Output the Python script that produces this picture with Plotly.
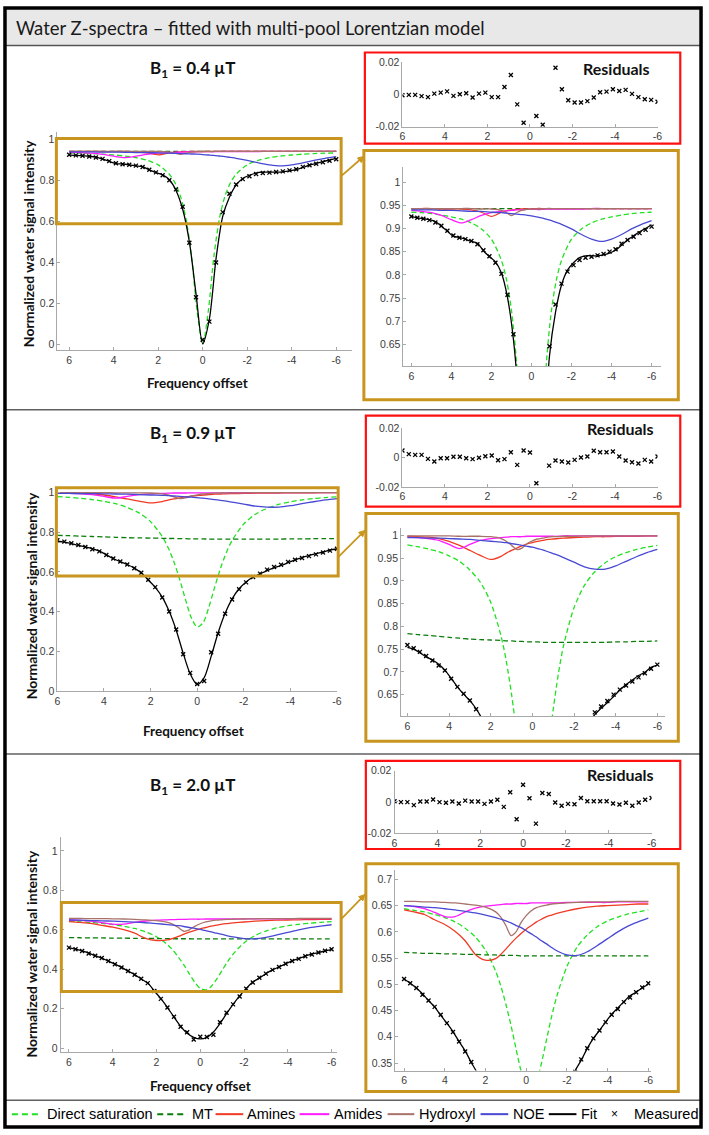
import math
import plotly.graph_objects as go

# ---------------- data ----------------
OFFSETS = [6.0, 5.7, 5.4, 5.1, 4.8, 4.5, 4.2, 3.9, 3.6, 3.3, 3.0, 2.7, 2.4, 2.1, 1.8, 1.5, 1.2, 0.9, 0.6, 0.3, 0.0,
           -0.3, -0.6, -0.9, -1.2, -1.5, -1.8, -2.1, -2.4, -2.7, -3.0, -3.3, -3.6, -3.9, -4.2, -4.5, -4.8, -5.1,
           -5.4, -5.7, -6.0]
CURVE_X = [6, 5.5, 5, 4.5, 4, 3.5, 3, 2.5, 2, 1.5, 1.25, 1, 0.75, 0.5, 0.25, 0, -0.25, -0.5, -0.75, -1, -1.25,
           -1.5, -2, -2.5, -3, -3.5, -4, -4.5, -5, -5.5, -6]
X_TICKS = [6, 4, 2, 0, -2, -4, -6]
X_TICK_TEXT = ['6', '4', '2', '0', '-2', '-4', '-6']
PANEL_LABELS = ['0.4', '0.9', '2.0']

# B1 = 0.4 uT
DS_1 = [0.935, 0.934, 0.932, 0.929, 0.925, 0.920, 0.912, 0.899, 0.877, 0.831, 0.790, 0.724, 0.613, 0.427, 0.161,
        0.000, 0.161, 0.427, 0.613, 0.724, 0.790, 0.831, 0.877, 0.899, 0.912, 0.920, 0.925, 0.929, 0.932, 0.934, 0.935]
MT_1 = [0.943, 0.943, 0.943, 0.943, 0.943, 0.943, 0.943, 0.943, 0.943, 0.943, 0.943, 0.943, 0.943, 0.943, 0.943,
        0.943, 0.943, 0.943, 0.943, 0.943, 0.943, 0.943, 0.943, 0.943, 0.943, 0.943, 0.943, 0.943, 0.943, 0.943, 0.943]
AMINES_1 = [0.943, 0.943, 0.943, 0.942, 0.942, 0.942, 0.940, 0.935, 0.926, 0.935, 0.938, 0.940, 0.941, 0.942, 0.942,
            0.942, 0.943, 0.943, 0.943, 0.943, 0.943, 0.943, 0.943, 0.943, 0.943, 0.943, 0.943, 0.943, 0.943, 0.943,
            0.943]
AMIDES_1 = [0.939, 0.937, 0.934, 0.928, 0.919, 0.912, 0.919, 0.928, 0.934, 0.937, 0.938, 0.939, 0.940, 0.940, 0.941,
            0.941, 0.941, 0.941, 0.942, 0.942, 0.942, 0.942, 0.942, 0.942, 0.943, 0.943, 0.943, 0.943, 0.943, 0.943,
            0.943]
HYDROXYL_1 = [0.943, 0.943, 0.943, 0.943, 0.943, 0.943, 0.943, 0.942, 0.942, 0.939, 0.934, 0.928, 0.934, 0.939,
              0.941, 0.942, 0.942, 0.942, 0.943, 0.943, 0.943, 0.943, 0.943, 0.943, 0.943, 0.943, 0.943, 0.943,
              0.943, 0.943, 0.943]
NOE_1 = [0.940, 0.940, 0.940, 0.939, 0.939, 0.938, 0.937, 0.937, 0.935, 0.934, 0.933, 0.932, 0.931, 0.930, 0.929,
         0.927, 0.925, 0.923, 0.920, 0.917, 0.913, 0.909, 0.899, 0.887, 0.877, 0.872, 0.877, 0.887, 0.899, 0.909, 0.917]
FIT_1 = [0.926, 0.923, 0.921, 0.919, 0.915, 0.905, 0.894, 0.883, 0.881, 0.877, 0.872, 0.868, 0.852, 0.839, 0.828,
         0.804, 0.752, 0.660, 0.502, 0.247, 0.003, 0.124, 0.419, 0.625, 0.719, 0.778, 0.810, 0.826, 0.837, 0.841,
         0.841, 0.841, 0.843, 0.847, 0.853, 0.864, 0.875, 0.884, 0.893, 0.900, 0.908]
MEAS_1 = [0.926, 0.923, 0.921, 0.918, 0.913, 0.906, 0.895, 0.885, 0.880, 0.877, 0.873, 0.866, 0.853, 0.840, 0.826,
          0.802, 0.757, 0.672, 0.496, 0.230, 0.023, 0.111, 0.400, 0.646, 0.736, 0.781, 0.807, 0.821, 0.832, 0.837,
          0.839, 0.842, 0.845, 0.850, 0.855, 0.867, 0.875, 0.882, 0.890, 0.897, 0.904]
RES_1 = [-0.0004, -0.0002, -0.0002, -0.0010, -0.0016, 0.0006, 0.0012, 0.0020, -0.0008, 0.0002, 0.0008, -0.0018,
         0.0006, 0.0012, -0.0016, -0.0016, 0.0047, 0.0122, -0.0061, -0.0175, None, -0.0133, -0.0188, None, 0.0167,
         0.0033, -0.0035, -0.0049, -0.0049, -0.0041, -0.0018, 0.0014, 0.0018, 0.0033, 0.0022, 0.0029, 0.0004,
         -0.0016, -0.0029, -0.0033, -0.0045]

# B1 = 0.9 uT
DS_2 = [0.979, 0.975, 0.970, 0.964, 0.955, 0.943, 0.924, 0.897, 0.853, 0.778, 0.723, 0.651, 0.562, 0.460, 0.369,
        0.322, 0.343, 0.421, 0.522, 0.617, 0.696, 0.758, 0.841, 0.890, 0.920, 0.940, 0.953, 0.962, 0.969, 0.974, 0.978]
MT_2 = [0.784, 0.782, 0.780, 0.778, 0.776, 0.774, 0.772, 0.771, 0.770, 0.769, 0.768, 0.768, 0.767, 0.767, 0.766,
        0.766, 0.766, 0.765, 0.765, 0.765, 0.765, 0.765, 0.765, 0.765, 0.765, 0.765, 0.766, 0.766, 0.767, 0.767, 0.768]
AMINES_2 = [0.998, 0.997, 0.996, 0.993, 0.987, 0.978, 0.967, 0.956, 0.947, 0.954, 0.961, 0.967, 0.972, 0.977, 0.981,
            0.984, 0.987, 0.989, 0.991, 0.992, 0.993, 0.994, 0.995, 0.996, 0.997, 0.997, 0.998, 0.998, 0.998, 0.999,
            0.999]
AMIDES_2 = [0.996, 0.995, 0.993, 0.989, 0.980, 0.971, 0.980, 0.989, 0.993, 0.995, 0.996, 0.997, 0.997, 0.997, 0.998,
            0.998, 0.998, 0.998, 0.998, 0.998, 0.998, 0.999, 0.999, 0.999, 0.999, 0.999, 0.999, 0.999, 0.999, 0.999,
            0.999]
HYDROXYL_2 = [0.999, 0.999, 0.999, 0.999, 0.999, 0.998, 0.998, 0.998, 0.997, 0.993, 0.987, 0.978, 0.969, 0.972,
              0.982, 0.988, 0.992, 0.994, 0.996, 0.997, 0.997, 0.998, 0.998, 0.999, 0.999, 0.999, 0.999, 0.999,
              0.999, 0.999, 0.999]
NOE_2 = [0.995, 0.995, 0.994, 0.994, 0.993, 0.992, 0.991, 0.989, 0.987, 0.985, 0.984, 0.982, 0.980, 0.978, 0.976,
         0.974, 0.971, 0.968, 0.964, 0.960, 0.956, 0.951, 0.941, 0.931, 0.926, 0.926, 0.933, 0.943, 0.953, 0.962, 0.969]
FIT_2 = [0.754, 0.750, 0.742, 0.733, 0.726, 0.717, 0.704, 0.686, 0.667, 0.651, 0.637, 0.619, 0.595, 0.559, 0.522,
         0.473, 0.401, 0.306, 0.190, 0.086, 0.032, 0.067, 0.174, 0.293, 0.391, 0.464, 0.515, 0.549, 0.574, 0.590,
         0.606, 0.620, 0.632, 0.646, 0.660, 0.672, 0.682, 0.692, 0.699, 0.710, 0.715]
MEAS_2 = [0.759, 0.752, 0.744, 0.735, 0.725, 0.714, 0.703, 0.685, 0.667, 0.652, 0.637, 0.618, 0.595, 0.560, 0.523,
          0.471, 0.400, 0.310, 0.185, 0.091, 0.035, 0.050, 0.195, 0.288, 0.389, 0.461, 0.512, 0.547, 0.574, 0.591,
          0.611, 0.624, 0.636, 0.650, 0.661, 0.670, 0.679, 0.688, 0.697, 0.707, 0.716]
RES_2 = [0.0048, 0.0023, 0.0018, 0.0018, -0.0009, -0.0027, -0.0005, -0.0005, 0.0005, 0.0005, -0.0005, -0.0011,
         -0.0002, 0.0009, 0.0014, -0.0018, -0.0011, 0.0036, -0.0050, 0.0048, 0.0034, -0.0175, None, -0.0055,
         -0.0020, -0.0027, -0.0034, -0.0016, 0.0000, 0.0007, 0.0046, 0.0036, 0.0036, 0.0041, 0.0007, -0.0020,
         -0.0032, -0.0041, -0.0016, -0.0027, 0.0007]

# B1 = 2.0 uT
DS_3 = [0.644, 0.641, 0.638, 0.633, 0.627, 0.619, 0.607, 0.590, 0.565, 0.525, 0.497, 0.462, 0.422, 0.377, 0.334,
        0.303, 0.296, 0.313, 0.350, 0.395, 0.439, 0.477, 0.534, 0.571, 0.594, 0.610, 0.621, 0.628, 0.634, 0.638, 0.642]
MT_3 = [0.561, 0.560, 0.559, 0.559, 0.558, 0.558, 0.557, 0.557, 0.556, 0.556, 0.555, 0.555, 0.555, 0.555, 0.554,
        0.554, 0.554, 0.554, 0.554, 0.554, 0.554, 0.554, 0.554, 0.554, 0.554, 0.554, 0.554, 0.554, 0.554, 0.554, 0.554]
AMINES_3 = [0.642, 0.638, 0.633, 0.623, 0.614, 0.601, 0.583, 0.557, 0.546, 0.549, 0.557, 0.567, 0.578, 0.588, 0.597,
            0.605, 0.612, 0.619, 0.624, 0.629, 0.632, 0.635, 0.640, 0.644, 0.647, 0.649, 0.650, 0.651, 0.652, 0.653,
            0.653]
AMIDES_3 = [0.650, 0.648, 0.644, 0.637, 0.629, 0.629, 0.638, 0.645, 0.649, 0.651, 0.652, 0.653, 0.653, 0.654, 0.654,
            0.654, 0.655, 0.655, 0.655, 0.655, 0.655, 0.655, 0.656, 0.656, 0.656, 0.656, 0.656, 0.657, 0.657, 0.657,
            0.657]
HYDROXYL_3 = [0.658, 0.658, 0.657, 0.657, 0.656, 0.655, 0.653, 0.651, 0.647, 0.638, 0.628, 0.612, 0.593, 0.600,
              0.618, 0.631, 0.640, 0.646, 0.649, 0.651, 0.653, 0.654, 0.655, 0.656, 0.657, 0.657, 0.657, 0.658,
              0.658, 0.658, 0.658]
NOE_3 = [0.650, 0.649, 0.647, 0.646, 0.644, 0.642, 0.639, 0.636, 0.632, 0.627, 0.624, 0.621, 0.617, 0.612, 0.608,
         0.602, 0.596, 0.590, 0.583, 0.577, 0.570, 0.564, 0.556, 0.555, 0.562, 0.574, 0.587, 0.600, 0.611, 0.619, 0.626]
FIT_3 = [0.510, 0.502, 0.493, 0.482, 0.469, 0.457, 0.441, 0.426, 0.410, 0.391, 0.373, 0.351, 0.330, 0.290, 0.251,
         0.206, 0.158, 0.112, 0.075, 0.055, 0.047, 0.055, 0.082, 0.125, 0.175, 0.222, 0.265, 0.302, 0.335, 0.355,
         0.378, 0.397, 0.412, 0.428, 0.443, 0.455, 0.467, 0.478, 0.485, 0.493, 0.500]
MEAS_3 = [0.510, 0.502, 0.493, 0.480, 0.469, 0.457, 0.442, 0.426, 0.409, 0.391, 0.372, 0.352, 0.330, 0.290, 0.250,
          0.206, 0.159, 0.109, 0.081, 0.044, 0.058, 0.057, 0.068, 0.131, 0.180, 0.222, 0.262, 0.301, 0.333, 0.357,
          0.378, 0.397, 0.412, 0.428, 0.442, 0.453, 0.466, 0.475, 0.485, 0.494, 0.502]
RES_3 = [0.0004, -0.0002, -0.0002, -0.0021, 0.0002, 0.0002, 0.0015, -0.0002, -0.0006, 0.0002, -0.0011, 0.0008,
         0.0002, 0.0002, -0.0013, 0.0002, 0.0013, -0.0032, 0.0061, -0.0111, 0.0109, 0.0023, -0.0139, 0.0057, 0.0050,
         -0.0004, -0.0025, -0.0013, -0.0015, 0.0025, 0.0004, 0.0004, 0.0004, 0.0004, -0.0011, -0.0017, -0.0006,
         -0.0025, -0.0004, 0.0013, 0.0025]

PANELS = [
    dict(ds=DS_1, mt=MT_1, amines=AMINES_1, amides=AMIDES_1, hydroxyl=HYDROXYL_1, noe=NOE_1,
         fit=FIT_1, meas=MEAS_1, res=RES_1),
    dict(ds=DS_2, mt=MT_2, amines=AMINES_2, amides=AMIDES_2, hydroxyl=HYDROXYL_2, noe=NOE_2,
         fit=FIT_2, meas=MEAS_2, res=RES_2),
    dict(ds=DS_3, mt=MT_3, amines=AMINES_3, amides=AMIDES_3, hydroxyl=HYDROXYL_3, noe=NOE_3,
         fit=FIT_3, meas=MEAS_3, res=RES_3),
]

# ---------------- styles / layout geometry ----------------
W, H = 709, 1135
GOLD = '#c8961e'
RED = '#ff1010'
AXIS_GRAY = '#a8a8a8'
TICK_FONT = dict(family='Liberation Sans, Arial, sans-serif', size=10.5, color='#3c3c3c')
TEXT_FAMILY = 'Lato, Open Sans, sans-serif'

LINE_STYLES = {
    'ds': dict(color='#22e022', dash='5px,3px', width=1.3),
    'mt': dict(color='#0b7d0b', dash='5px,3px', width=1.3),
    'amines': dict(color='#f03a24', width=1.3),
    'amides': dict(color='#ff1aff', width=1.3),
    'hydroxyl': dict(color='#a8726a', width=1.3),
    'noe': dict(color='#4848d4', width=1.3),
    'fit': dict(color='#000000', width=1.3),
}


def fx(p):
    return p / W


def fy(p):
    return 1 - p / H


# axes geometry: pixel domains and value ranges (main, residual, zoom) for each panel
AXES = [
    dict(xd=(55, 353), yd=(127, 348), xr=(6.53, -6.71), yr=(-0.029, 1.039), yt=[0, 0.2, 0.4, 0.6, 0.8, 1]),
    dict(xd=(404, 662), yd=(57, 122), xr=(6, -6), yr=(-0.02, 0.02), yt=[-0.02, 0, 0.02]),
    dict(xd=(405, 666), yd=(163, 364), xr=(6.395, -6.494), yr=(0.603, 1.032),
         yt=[0.65, 0.7, 0.75, 0.8, 0.85, 0.9, 0.95, 1]),
    dict(xd=(55, 338), yd=(488, 692.3), xr=(6, -6.01), yr=(0, 1.018), yt=[0, 0.2, 0.4, 0.6, 0.8, 1]),
    dict(xd=(404, 662), yd=(426.7, 486), xr=(6, -6), yr=(-0.02, 0.02), yt=[-0.02, 0, 0.02]),
    dict(xd=(402.7, 670), yd=(527.7, 717.7), xr=(6.30, -6.39), yr=(0.6028, 1.0159),
         yt=[0.65, 0.7, 0.75, 0.8, 0.85, 0.9, 0.95, 1]),
    dict(xd=(58.3, 338.3), yd=(840, 1057.3), xr=(6.38, -6.27), yr=(-0.0201, 1.0704),
         yt=[0, 0.2, 0.4, 0.6, 0.8, 1]),
    dict(xd=(396, 656), yd=(772.7, 836), xr=(6, -6), yr=(-0.02, 0.02), yt=[-0.02, 0, 0.02]),
    dict(xd=(396.7, 655), yd=(873.3, 1076), xr=(6.437, -6.112), yr=(0.3355, 0.7177),
         yt=[0.35, 0.4, 0.45, 0.5, 0.55, 0.6, 0.65, 0.7]),
]

fig = go.Figure()
layout_axes = {}
for i, a in enumerate(AXES, start=1):
    s = '' if i == 1 else str(i)
    common = dict(showline=True, linecolor=AXIS_GRAY, linewidth=1, ticks='inside', ticklen=3,
                  tickcolor=AXIS_GRAY, tickwidth=1, showgrid=False, zeroline=False, mirror=False,
                  tickfont=TICK_FONT, autorange=False, fixedrange=True)
    layout_axes['xaxis' + s] = dict(common, domain=[fx(a['xd'][0]), fx(a['xd'][1])], range=list(a['xr']),
                                    anchor='y' + s, tickvals=X_TICKS, ticktext=X_TICK_TEXT)
    ytext = ['%g' % v for v in a['yt']]
    layout_axes['yaxis' + s] = dict(common, domain=[fy(a['yd'][1]), fy(a['yd'][0])], range=list(a['yr']),
                                    anchor='x' + s, tickvals=a['yt'], ticktext=ytext)


def ax_ids(i):
    return ('x', 'y') if i == 1 else ('x%d' % i, 'y%d' % i)


for p, data in enumerate(PANELS):
    main_i, res_i, zoom_i = 3 * p + 1, 3 * p + 2, 3 * p + 3
    for ai in (main_i, zoom_i):
        xa, ya = ax_ids(ai)
        for key in ('ds', 'mt', 'amines', 'amides', 'hydroxyl', 'noe'):
            fig.add_trace(go.Scatter(x=CURVE_X, y=data[key], mode='lines', xaxis=xa, yaxis=ya,
                                     line=dict(LINE_STYLES[key], shape='spline', smoothing=0.8),
                                     showlegend=False, hoverinfo='skip'))
        fig.add_trace(go.Scatter(x=OFFSETS, y=data['fit'], mode='lines', xaxis=xa, yaxis=ya,
                                 line=dict(LINE_STYLES['fit'], shape='spline', smoothing=0.8),
                                 showlegend=False, hoverinfo='skip'))
        fig.add_trace(go.Scatter(x=OFFSETS, y=data['meas'], mode='markers', xaxis=xa, yaxis=ya,
                                 marker=dict(symbol='x-thin', size=4, line=dict(color='#000', width=1.3)),
                                 showlegend=False, hoverinfo='skip'))
    xa, ya = ax_ids(res_i)
    fig.add_trace(go.Scatter(x=OFFSETS, y=data['res'], mode='markers', xaxis=xa, yaxis=ya,
                             marker=dict(symbol='x-thin', size=4, line=dict(color='#000', width=1.3)),
                             showlegend=False, hoverinfo='skip'))

# ---------------- decorations ----------------
shapes = []


def rect(x0, y0, x1, y1, color, width, fill=None):
    d = dict(type='rect', xref='paper', yref='paper', x0=fx(x0), x1=fx(x1), y0=fy(y1), y1=fy(y0),
             line=dict(color=color, width=width))
    if fill:
        d['fillcolor'] = fill
        d['layer'] = 'below'
    return d


def seg(x0, y0, x1, y1, color, width, dash='solid'):
    return dict(type='line', xref='paper', yref='paper', x0=fx(x0), x1=fx(x1), y0=fy(y0), y1=fy(y1),
                line=dict(color=color, width=width, dash=dash))


def hline(x0, x1, y, color, width, dash='solid'):
    return seg(x0, y, x1, y, color, width, dash)


# title bar
shapes.append(rect(2, 2, 705, 40, '#e8e8e8', 0, fill='#e8e8e8'))
shapes.append(hline(2, 705, 40, '#555555', 1.5))
# panel separators
shapes.append(hline(2, 705, 408, '#606060', 1.5))
shapes.append(hline(2, 705, 756, '#606060', 1.5))
shapes.append(hline(2, 705, 1106, '#606060', 1.5))
# outer border
shapes.append(rect(2, 2, 706, 1133, '#000000', 3.5))

# gold boxes in main plots and zoom frames, red residual frames
GOLD_MAIN = [(54, 134, 342, 220), (54, 487, 339, 576), (59, 906, 342, 996)]
GOLD_ZOOM = [(365, 146, 683, 398), (367, 513, 683, 743), (367, 867, 683, 1097)]
RED_BOX = [(366, 47, 685, 139), (367, 414, 685, 506), (367, 763, 685, 852)]
for b in GOLD_MAIN + GOLD_ZOOM:
    shapes.append(rect(*b, GOLD, 3))
for b in RED_BOX:
    shapes.append(rect(*b, RED, 2.2))

# connector lines with small arrow heads (tail at gold box in main plot, head at zoom frame)
CONNECT = [((342, 172), (365, 152)), ((339, 557), (366, 530)), ((342, 923), (366, 898))]
for (tx, ty), (hx, hy) in CONNECT:
    dx, dy = hx - tx, hy - ty
    n = math.hypot(dx, dy)
    ux, uy = dx / n, dy / n
    bx, by = hx - 6 * ux, hy - 6 * uy
    shapes.append(seg(tx, ty, bx, by, GOLD, 1.8))
    pts = [(hx, hy), (bx - 3 * uy, by + 3 * ux), (bx + 3 * uy, by - 3 * ux)]
    path = 'M ' + ' L '.join('%.5f %.5f' % (fx(x), fy(y)) for x, y in pts) + ' Z'
    shapes.append(dict(type='path', xref='paper', yref='paper', path=path, fillcolor=GOLD,
                       line=dict(color=GOLD, width=1)))

annotations = []


def text(x, y, s, size, bold=False, anchor='center', family=TEXT_FAMILY, angle=0, color='#111111'):
    return dict(x=fx(x), y=fy(y), xref='paper', yref='paper', text=('<b>%s</b>' % s) if bold else s,
                showarrow=False, xanchor=anchor, yanchor='middle', textangle=angle,
                font=dict(family=family, size=size, color=color))


annotations.append(text(11, 22, 'Water Z-spectra \u2013 fitted with multi-pool Lorentzian model', 18.5,
                        anchor='left', color='#1a1a1a'))

B1_POS = [(192, 64), (192, 433), (192, 788)]
RESID_POS = [(620, 63), (625, 427), (625, 777)]
YTITLE_POS = [(26, 240), (29, 596), (29, 958)]
XTITLE_POS = [(197, 381), (193, 733), (200, 1092)]
for k in range(3):
    annotations.append(text(*B1_POS[k], 'B<sub>1</sub> = %s \u00b5T' % PANEL_LABELS[k], 17, bold=True))
    annotations.append(text(*RESID_POS[k], 'Residuals', 16, bold=True))
    annotations.append(text(*YTITLE_POS[k], 'Normalized water signal intensity', 14, bold=True, angle=-90))
    annotations.append(text(*XTITLE_POS[k], 'Frequency offset', 13.5, bold=True))

# legend row
LEG_Y = 1120
LEG_FONT = 'Liberation Sans, Arial, sans-serif'
LEGEND = [
    ('ds', 9, 39, 42, 'Direct saturation'),
    ('mt', 156, 186, 189, 'MT'),
    ('amines', 215, 243, 245, 'Amines'),
    ('amides', 300, 330, 333, 'Amides'),
    ('hydroxyl', 389, 416, 419, 'Hydroxyl'),
    ('noe', 483, 511, 514, 'NOE'),
    ('fit', 552, 580, 583, 'Fit'),
]
for key, x0, x1, tx, label in LEGEND:
    st = LINE_STYLES[key]
    dash = '6px,4px' if 'dash' in st else 'solid'
    shapes.append(hline(x0, x1, LEG_Y, st['color'], 2, dash))
    annotations.append(text(tx, LEG_Y, label, 14.5, anchor='left', family=LEG_FONT, color='#000000'))
annotations.append(text(618, LEG_Y, '\u00d7', 12, family=LEG_FONT, color='#000000'))
annotations.append(text(636, LEG_Y, 'Measured', 14.5, anchor='left', family=LEG_FONT, color='#000000'))

fig.update_layout(
    width=W, height=H, autosize=False,
    margin=dict(l=0, r=0, t=0, b=0, pad=0),
    paper_bgcolor='white', plot_bgcolor='rgba(0,0,0,0)',
    showlegend=False,
    shapes=shapes, annotations=annotations,
    **layout_axes,
)

fig.write_html('out.html', config={'displayModeBar': False, 'staticPlot': True},
               post_script="document.body.style.margin='0px';document.body.style.padding='0px';")
